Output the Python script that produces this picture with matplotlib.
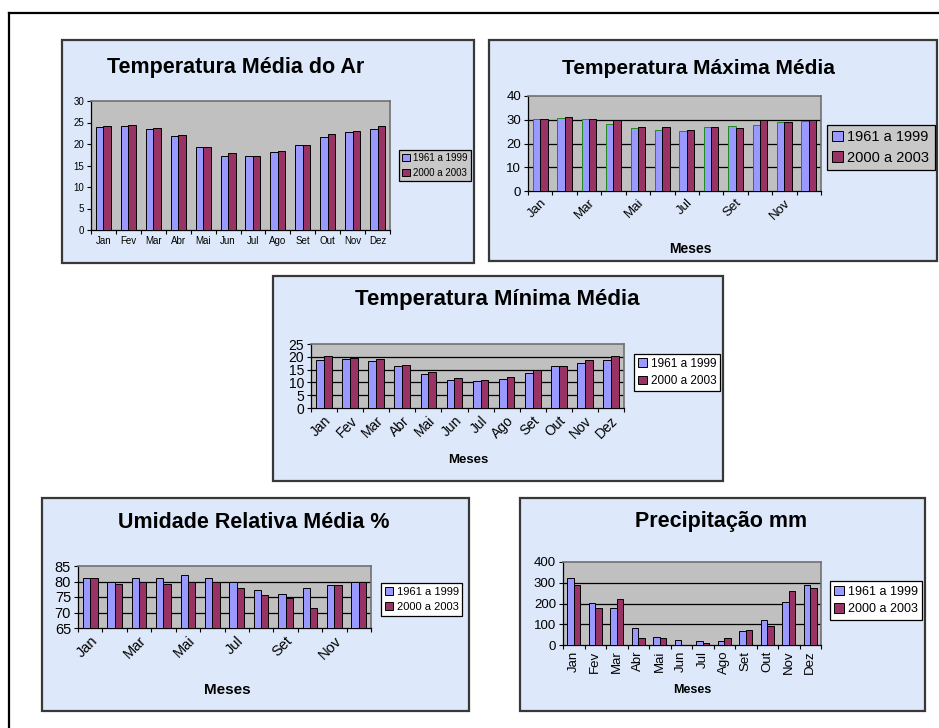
import matplotlib
matplotlib.use("Agg")
import matplotlib.pyplot as plt
from matplotlib.patches import Rectangle
from matplotlib.lines import Line2D
import numpy as np

plt.rcParams['font.family'] = ['Liberation Sans', 'DejaVu Sans']

W, H = 939, 728

months = ["Jan", "Fev", "Mar", "Abr", "Mai", "Jun", "Jul", "Ago", "Set", "Out", "Nov", "Dez"]
series_names = ["1961 a 1999", "2000 a 2003"]

temp_media_61 = [23.9, 24.1, 23.6, 21.8, 19.3, 17.2, 17.1, 18.1, 19.7, 21.6, 22.7, 23.5]
temp_media_00 = [24.2, 24.5, 23.7, 22.1, 19.4, 17.9, 17.2, 18.3, 19.7, 22.3, 23.0, 24.1]

temp_max_61 = [30.2, 30.9, 30.2, 28.4, 26.7, 25.7, 25.4, 26.9, 27.4, 27.9, 28.9, 29.6]
temp_max_00 = [30.5, 31.3, 30.5, 29.8, 27.1, 27.1, 25.8, 26.9, 26.4, 29.8, 28.9, 29.8]

temp_min_61 = [18.9, 19.3, 18.5, 16.5, 13.4, 10.8, 10.4, 11.5, 13.7, 16.5, 17.7, 18.8]
temp_min_00 = [20.2, 19.7, 19.3, 16.9, 13.9, 11.7, 11.1, 12.1, 15.0, 16.5, 18.8, 20.2]

umidade_61 = [81.0, 80.0, 81.0, 81.0, 82.0, 81.0, 80.0, 77.1, 76.1, 78.0, 79.0, 80.0]
umidade_00 = [81.0, 79.3, 79.9, 79.3, 80.0, 80.0, 78.0, 75.5, 74.8, 71.3, 79.0, 80.0]

precip_61 = [322, 203, 176, 82, 40, 24, 21, 21, 69, 122, 206, 290]
precip_00 = [290, 176, 224, 34, 32, 0, 10, 32, 72, 91, 258, 275]

BLUE = "#9999FF"
MAROON = "#993366"
PANEL_BG = "#DDE9FA"
PLOT_BG = "#C0C0C0"

fig = plt.figure(figsize=(W / 100, H / 100), dpi=100)
fig.patch.set_facecolor("white")


def fx(x):
    return x / W


def fy(y):
    return 1 - y / H


# outer frame
fig.add_artist(Line2D([fx(9), fx(939)], [fy(13), fy(13)], color="black", lw=1.6))
fig.add_artist(Line2D([fx(9), fx(9)], [fy(13), fy(728)], color="black", lw=1.6))


def panel(x0, y0, x1, y1):
    fig.add_artist(Rectangle((fx(x0), fy(y1)), fx(x1 - x0), (y1 - y0) / H,
                             facecolor=PANEL_BG, edgecolor="#383838", lw=1.6,
                             transform=fig.transFigure, zorder=0))


def chart(box, s1, s2, ymax, ystep, ymin=0, grid=True, fs=7, label_step=1,
          rot=0, edge1="black", title="", title_xy=(0, 0), title_fs=15,
          xlabel=None, xlabel_xy=(0, 0), xlabel_fs=9, legend_xy=(0, 0),
          legend_fs=7, legend_bg="white"):
    x0, y0, x1, y1 = box
    ax = fig.add_axes([fx(x0), fy(y1), (x1 - x0) / W, (y1 - y0) / H])
    ax.set_facecolor(PLOT_BG)
    ax.set_zorder(2)
    idx = np.arange(len(months)) + 0.5
    w = 0.3
    b1 = ax.bar(idx - w / 2, np.array(s1) - ymin, w, bottom=ymin, color=BLUE,
                edgecolor=edge1, lw=0.7, zorder=3, label=series_names[0])
    b2 = ax.bar(idx + w / 2, np.array(s2) - ymin, w, bottom=ymin, color=MAROON,
                edgecolor="black", lw=0.7, zorder=3, label=series_names[1])
    ax.set_xlim(0, len(months))
    ax.set_ylim(ymin, ymax)
    yt = np.arange(ymin, ymax + 0.01, ystep)
    ax.set_yticks(yt)
    ax.set_yticklabels([f"{v:g}" for v in yt], fontsize=fs)
    if grid:
        for v in yt[1:-1]:
            ax.axhline(v, color="black", lw=0.9, zorder=1)
    ax.set_xticks(np.arange(0, len(months) + 1))
    ax.set_xticklabels([])
    ax.tick_params(axis="both", direction="out", length=3, width=0.8, color="black", pad=2)
    ax.set_xticks(idx[::label_step], minor=True)
    if rot == 0:
        ax.set_xticklabels(months[::label_step], minor=True, fontsize=fs)
    elif rot == 90:
        ax.set_xticklabels(months[::label_step], minor=True, fontsize=fs,
                           rotation=90, ha="right", va="center", rotation_mode="anchor")
    else:
        ax.set_xticklabels(months[::label_step], minor=True, fontsize=fs,
                           rotation=rot, ha="right", va="top", rotation_mode="anchor")
    ax.tick_params(axis="x", which="minor", length=0, pad=4)
    for s in ["left", "bottom"]:
        ax.spines[s].set_color("black")
        ax.spines[s].set_linewidth(0.9)
    for s in ["top", "right"]:
        ax.spines[s].set_color("#707070")
        ax.spines[s].set_linewidth(1.2)
    fig.text(fx(title_xy[0]), fy(title_xy[1]), title, fontsize=title_fs,
             fontweight="bold", ha="center", va="center")
    if xlabel:
        fig.text(fx(xlabel_xy[0]), fy(xlabel_xy[1]), xlabel, fontsize=xlabel_fs,
                 fontweight="bold", ha="center", va="center")
    leg = ax.legend(handles=[b1, b2], loc="center left",
                    bbox_to_anchor=(fx(legend_xy[0]), fy(legend_xy[1])),
                    bbox_transform=fig.transFigure, fontsize=legend_fs,
                    frameon=True, fancybox=False, edgecolor="black",
                    facecolor=legend_bg, framealpha=1, handlelength=0.75,
                    handleheight=0.75, handletextpad=0.3, borderpad=0.35,
                    labelspacing=0.45, borderaxespad=0)
    leg.get_frame().set_linewidth(0.9)
    for h in leg.legend_handles:
        h.set_edgecolor("black")
    return ax


# Temperatura Média do Ar
panel(62, 40, 474, 263)
chart((91, 101, 390, 230), temp_media_61, temp_media_00, 30, 5, grid=False, fs=7,
      title="Temperatura Média do Ar", title_xy=(236, 68), title_fs=15.5,
      legend_xy=(399, 165.5), legend_fs=7, legend_bg="#C8C8C8")

# Temperatura Máxima Média
panel(489, 40, 937, 261)
chart((528, 96, 821, 191), temp_max_61, temp_max_00, 40, 10, fs=9.5, label_step=2,
      rot=45, edge1="#1E8C1E",
      title="Temperatura Máxima Média", title_xy=(698, 69), title_fs=15,
      xlabel="Meses", xlabel_xy=(690, 249), xlabel_fs=10,
      legend_xy=(827, 147.5), legend_fs=10.5, legend_bg="#C8C8C8")

# Temperatura Mínima Média
panel(273, 276, 723, 481)
chart((311, 344, 624, 408), temp_min_61, temp_min_00, 25, 5, fs=10, rot=45,
      title="Temperatura Mínima Média", title_xy=(497, 300), title_fs=16,
      xlabel="Meses", xlabel_xy=(468, 460), xlabel_fs=9.5,
      legend_xy=(634, 372.5), legend_fs=8.5)

# Umidade Relativa Média %
panel(42, 498, 469, 711)
chart((78, 566, 371, 628), umidade_61, umidade_00, 85, 5, ymin=65, fs=10.5,
      label_step=2, rot=45,
      title="Umidade Relativa Média %", title_xy=(254, 523), title_fs=15.5,
      xlabel="Meses", xlabel_xy=(227, 690), xlabel_fs=11,
      legend_xy=(381, 599.5), legend_fs=8)

# Precipitação mm
panel(520, 498, 925, 711)
chart((563, 562, 821, 645), precip_61, precip_00, 400, 100, fs=9.5, rot=90,
      title="Precipitação mm", title_xy=(721, 522), title_fs=15.5,
      xlabel="Meses", xlabel_xy=(692, 690), xlabel_fs=9,
      legend_xy=(830, 600.5), legend_fs=9)

fig.savefig("out.png", dpi=100, facecolor="white")
